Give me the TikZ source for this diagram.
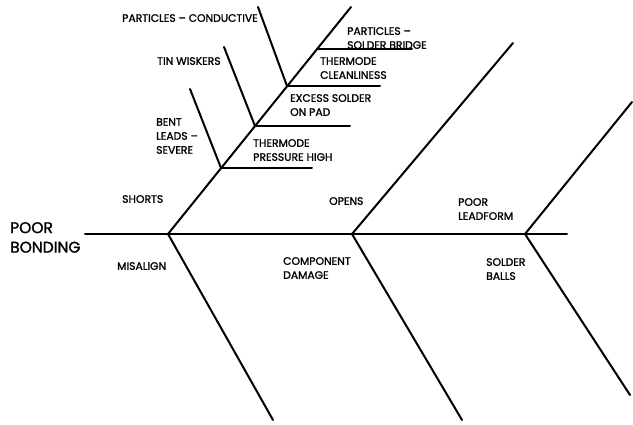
\documentclass[tikz,border=0pt]{standalone}
\usepackage{fontspec}
\newfontfamily\diagfont{Poppins}[FakeBold=1.4]
\tikzset{
  bone/.style={line width=2pt, line cap=round},
  twig/.style={line width=2pt, line cap=round},
  lbl/.style={font=\diagfont\fontsize{10.8}{14}\selectfont, anchor=north west, inner sep=0pt, align=left},
  biglbl/.style={font=\diagfont\fontsize{15.5}{19.5}\selectfont, anchor=north west, inner sep=0pt, align=left}
}
\begin{document}
\begin{tikzpicture}[x=1pt,y=-1pt]
\useasboundingbox (0,0) rectangle (633,425);
% spine
\coordinate (S0) at (85,234);
\coordinate (S1) at (567,234);
\coordinate (J1) at (168,234);
\coordinate (J2) at (352,234);
\coordinate (J3) at (525,234);
\coordinate (U1) at (351,7);
\coordinate (U2) at (513,43);
\coordinate (U3) at (632,102);
\coordinate (L1) at (273,420);
\coordinate (L2) at (462,420);
\coordinate (L3) at (630,395);
\draw[bone] (S0) -- (S1);
\draw[bone] (J1) -- (U1);
\draw[bone] (J2) -- (U2);
\draw[bone] (J3) -- (U3);
\draw[bone] (J1) -- (L1);
\draw[bone] (J2) -- (L2);
\draw[bone] (J3) -- (L3);
% sub-branches on shorts
\coordinate (B1) at (221,168);
\coordinate (B1t) at (190,89);
\coordinate (B1e) at (312,168);
\coordinate (B2) at (255,126);
\coordinate (B2t) at (224,47);
\coordinate (B2e) at (350,126);
\coordinate (B3) at (287,86);
\coordinate (B3t) at (258,7);
\coordinate (B3e) at (380,86);
\coordinate (B4) at (317,49);
\coordinate (B4e) at (412,49);
\draw[twig] (B1t) -- (B1);
\draw[twig] (B1) -- (B1e);
\draw[twig] (B2t) -- (B2);
\draw[twig] (B2) -- (B2e);
\draw[twig] (B3t) -- (B3);
\draw[twig] (B3) -- (B3e);
\draw[twig] (B4) -- (B4e);
% labels
\node[biglbl] (pb) at (10,222) {POOR\\BONDING};
\node[lbl] (pc) at (122,14) {PARTICLES – CONDUCTIVE};
\node[lbl] (psb) at (347,27) {PARTICLES –\\SOLDER BRIDGE};
\node[lbl] (tc) at (320,57) {THERMODE\\CLEANLINESS};
\node[lbl] (tw) at (157,57) {TIN WISKERS};
\node[lbl] (es) at (290,94) {EXCESS SOLDER\\ON PAD};
\node[lbl] (bl) at (156,118) {BENT\\LEADS –\\SEVERE};
\node[lbl] (tp) at (253,139) {THERMODE\\PRESSURE HIGH};
\node[lbl] (sh) at (122,195) {SHORTS};
\node[lbl] (op) at (329,197) {OPENS};
\node[lbl] (pl) at (458,198) {POOR\\LEADFORM};
\node[lbl] (ma) at (117,262) {MISALIGN};
\node[lbl] (cd) at (283,257) {COMPONENT\\DAMAGE};
\node[lbl] (sb) at (486,258) {SOLDER\\BALLS};
\end{tikzpicture}
\end{document}
